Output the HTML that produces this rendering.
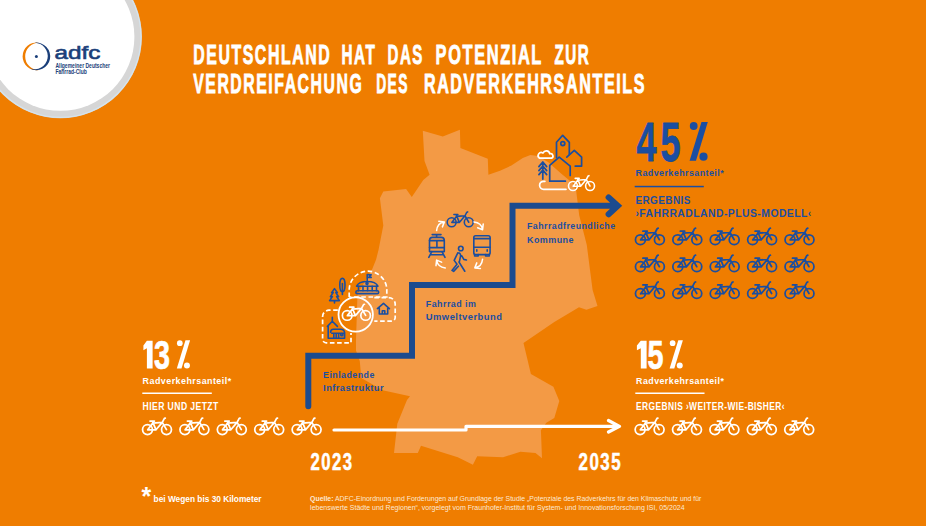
<!DOCTYPE html>
<html><head><meta charset="utf-8">
<style>
html,body{margin:0;padding:0;width:926px;height:526px;overflow:hidden;background:#EF7D00;}
svg{display:block;font-family:"Liberation Sans",sans-serif;}
</style></head><body>
<svg width="926" height="526" viewBox="0 0 926 526">
<defs>
<symbol id="bike" viewBox="0 0 36 24" overflow="visible">
 <g fill="none" stroke-width="1.75" stroke-linecap="round" stroke-linejoin="round">
  <circle cx="8.4" cy="15.7" r="4.95"/>
  <circle cx="27.4" cy="15.7" r="4.95"/>
  <path d="M8.6 15.9 L16.9 15.9 L13.4 7.4 M10.9 7.2 L15.3 7.2 M8.6 15.9 L13.7 9.2 L23.2 8.5 L16.9 15.9 M23.2 8.5 L27.4 15.7 M23.2 8.5 L25.3 4.5 L26.2 4.2"/>
 </g>
</symbol>
<symbol id="pct" viewBox="0 0 18.2 38.7" overflow="visible">
 <circle cx="4.1" cy="3.9" r="3.9"/>
 <polygon points="11.9,0 18.2,0 6.4,38.7 0,38.7"/>
 <circle cx="13.9" cy="34.6" r="4.1"/>
</symbol>
</defs>

<!-- map -->
<polygon fill="#F39A45" points="422.8,130.8 442.8,136.5 459.9,129.7 460.4,147.9 487.8,158.8 488.4,174.7 500,170.7 511.4,165.6 522.8,158 530.4,155.1 538,156.1 548,162 560.8,173.2 572.2,182.7 576.2,191 579.2,215.2 586.8,245 590,270 592.6,290 597.5,306 586.4,309.8 579,307.3 554.3,322.1 523.5,343.1 530.9,374 553.4,386.8 559.3,401 554.3,418 546.3,422.7 540.9,430.2 542,458.3 535.5,452.9 520.4,451.8 503.1,457.2 477.2,456.2 472.9,464.8 457.8,457.2 421,445.8 417.8,452.9 394,452.9 397.3,423.8 407,400 410,396.2 382.6,390.2 361.3,378 359.8,361.3 356,350.6 356,340 357.5,294 372.3,269 376.1,259.5 378.5,250 383.3,225.6 379.9,198.3 383.3,191.4 406.1,189.1 411.8,197.1 423.3,180 429.6,174.7 424.5,161"/>

<!-- logo circle -->
<circle cx="60.4" cy="36.8" r="81.5" fill="#D6D6D6"/>
<circle cx="60.4" cy="36.8" r="80.6" fill="none" stroke="#D4E4EE" stroke-width="1.2"/>
<circle cx="60.4" cy="36.8" r="74" fill="#FFFFFF"/>
<!-- logo -->
<path d="M38.80 42.81 A13.8 13.8 0 1 0 38.80 69.99 A13.59 13.59 0 1 1 38.80 42.81 Z" fill="#EF7D00"/>
<path d="M34.72 42.70 A13.8 13.8 0 1 1 29.92 68.58 A13.33 13.33 0 1 0 34.72 42.70 Z" fill="#1B3F7A"/>
<circle cx="36.4" cy="56.4" r="1.5" fill="#1B3F7A"/>
<text x="54.6" y="59.4" font-size="18.5" font-weight="400" fill="#1B3F7A" stroke="#1B3F7A" stroke-width="0.6" textLength="45.8" lengthAdjust="spacingAndGlyphs">adfc</text>
<text x="55.4" y="67.7" font-size="6.8" font-weight="700" fill="#1B3F7A" textLength="54.6" lengthAdjust="spacingAndGlyphs">Allgemeiner Deutscher</text>
<text x="55.4" y="74.2" font-size="6.8" font-weight="700" fill="#1B3F7A" textLength="31.5" lengthAdjust="spacingAndGlyphs">Fahrrad-Club</text>

<!-- title -->
<g fill="#FFFFFF" font-weight="700" font-size="28.4" letter-spacing="2.8" stroke="#FFFFFF" stroke-width="0.9">
<text x="193.2" y="64" textLength="138.1" lengthAdjust="spacingAndGlyphs">DEUTSCHLAND</text>
<text x="341.5" y="64" textLength="34.8" lengthAdjust="spacingAndGlyphs">HAT</text>
<text x="387.6" y="64" textLength="36.3" lengthAdjust="spacingAndGlyphs">DAS</text>
<text x="435.6" y="64" textLength="107.4" lengthAdjust="spacingAndGlyphs">POTENZIAL</text>
<text x="554.5" y="64" textLength="35.8" lengthAdjust="spacingAndGlyphs">ZUR</text>
<text x="193.2" y="93.3" textLength="170.1" lengthAdjust="spacingAndGlyphs">VERDREIFACHUNG</text>
<text x="376.2" y="93.3" textLength="32.6" lengthAdjust="spacingAndGlyphs">DES</text>
<text x="423.9" y="93.3" textLength="222.2" lengthAdjust="spacingAndGlyphs">RADVERKEHRSANTEILS</text>
</g>

<!-- staircase -->
<path d="M308.3 406.3 L308.3 355.7 L412 355.7 L412 285 L512.5 285 L512.5 205.8 L617 205.8 M608.6 197.4 L617.8 205.8 L608.6 214.2" fill="none" stroke="#1C4B8E" stroke-width="6" stroke-linecap="round" stroke-linejoin="miter"/>

<!-- stair texts -->
<g fill="#1A4EA2" font-weight="700" font-size="9.7" letter-spacing="0.5">
<text x="323.1" y="377.7" textLength="51.7" lengthAdjust="spacingAndGlyphs">Einladende</text>
<text x="323.1" y="390.5" textLength="60.9" lengthAdjust="spacingAndGlyphs">Infrastruktur</text>
<text x="425.8" y="306.7" textLength="50.6" lengthAdjust="spacingAndGlyphs">Fahrrad im</text>
<text x="425.8" y="319.7" textLength="76.6" lengthAdjust="spacingAndGlyphs">Umweltverbund</text>
<text x="527" y="229.1" textLength="88.5" lengthAdjust="spacingAndGlyphs">Fahrradfreundliche</text>
<text x="527" y="242.5" textLength="47" lengthAdjust="spacingAndGlyphs">Kommune</text>
</g>

<!-- 45% -->
<g fill="#1A4EA2">
<text x="636.6" y="160.9" font-size="55" font-weight="700" letter-spacing="6" stroke="#1B4D96" stroke-width="0.8" textLength="48" lengthAdjust="spacingAndGlyphs">45</text>
<use href="#pct" x="689.6" y="122.1" width="18.2" height="38.7"/>
<text x="635.6" y="176.2" font-size="9.7" font-weight="700" letter-spacing="0.5" textLength="88.5" lengthAdjust="spacingAndGlyphs">Radverkehrsanteil*</text>
<rect x="634.7" y="185.8" width="69.1" height="1.5"/>
<text x="635.4" y="203.8" font-size="10.5" font-weight="700" letter-spacing="0.5" textLength="55.5" lengthAdjust="spacingAndGlyphs">ERGEBNIS</text>
<text x="635.4" y="216.7" font-size="10.5" font-weight="700" letter-spacing="0.5" textLength="176.4" lengthAdjust="spacingAndGlyphs">›FAHRRADLAND-PLUS-MODELL‹</text>
</g>

<!-- 13% -->
<g fill="#FFFFFF">
<path d="M146.9 340.8 L152.6 340.8 L152.6 368.6 L146.9 368.6 L146.9 348.2 L143.4 350.2 L143.4 345.6 Z"/>
<text x="154" y="368.5" font-size="41" font-weight="700" stroke="#FFFFFF" stroke-width="0.7" textLength="16" lengthAdjust="spacingAndGlyphs">3</text>
<use href="#pct" x="176.8" y="340.3" width="13.3" height="28.2"/>
<text x="142.6" y="384.4" font-size="9.7" font-weight="700" letter-spacing="0.5" textLength="89" lengthAdjust="spacingAndGlyphs">Radverkehrsanteil*</text>
<rect x="142.3" y="392.5" width="69.5" height="1.5"/>
<text x="142.6" y="409.5" font-size="10.5" font-weight="700" letter-spacing="0.5" textLength="76.1" lengthAdjust="spacingAndGlyphs">HIER UND JETZT</text>
</g>

<!-- 15% -->
<g fill="#FFFFFF">
<path d="M640.8 340.8 L646.6 340.8 L646.6 368.6 L640.8 368.6 L640.8 348.2 L636.9 350.2 L636.9 345.6 Z"/>
<text x="647.5" y="368.5" font-size="41" font-weight="700" stroke="#FFFFFF" stroke-width="0.7" textLength="16" lengthAdjust="spacingAndGlyphs">5</text>
<use href="#pct" x="669.6" y="340.3" width="13.3" height="28.2"/>
<text x="636.1" y="384.4" font-size="9.7" font-weight="700" letter-spacing="0.5" textLength="88.2" lengthAdjust="spacingAndGlyphs">Radverkehrsanteil*</text>
<rect x="635.3" y="392.5" width="69.2" height="1.5"/>
<text x="636.1" y="409.5" font-size="10.5" font-weight="700" letter-spacing="0.5" textLength="148.9" lengthAdjust="spacingAndGlyphs">ERGEBNIS ›WEITER-WIE-BISHER‹</text>
</g>

<!-- timeline -->
<path d="M334 430 L466 430 L466 426.3 L619 426.3 M608.5 420.5 L619.5 426.3 L608.5 432" fill="none" stroke="#FFFFFF" stroke-width="3.2" stroke-linecap="round" stroke-linejoin="round"/>
<g fill="#FFFFFF" font-weight="700" font-size="23" letter-spacing="2" stroke="#FFFFFF" stroke-width="0.5">
<text x="310.6" y="469.6" textLength="43" lengthAdjust="spacingAndGlyphs">2023</text>
<text x="578.6" y="469.6" textLength="43.5" lengthAdjust="spacingAndGlyphs">2035</text>
</g>

<!-- footnote -->
<g fill="#FFFFFF">
<text x="141.4" y="504.5" font-size="25" font-weight="700">*</text>
<text x="153.6" y="501.6" font-size="9" font-weight="700" textLength="108" lengthAdjust="spacingAndGlyphs">bei Wegen bis 30 Kilometer</text>
<text x="310.1" y="501.2" font-size="7" fill="#FDE9D6" textLength="391.3" lengthAdjust="spacingAndGlyphs"><tspan font-weight="700">Quelle:</tspan> ADFC-Einordnung und Forderungen auf Grundlage der Studie „Potenziale des Radverkehrs für den Klimaschutz und für</text>
<text x="310.1" y="509.8" font-size="7" fill="#FDE9D6" textLength="374.5" lengthAdjust="spacingAndGlyphs">lebenswerte Städte und Regionen“, vorgelegt vom Fraunhofer-Institut für System- und Innovationsforschung ISI, 05/2024</text>
</g>


<!-- ICONS top-right cluster -->
<g fill="none" stroke="#1A4EA0" stroke-width="1.7" stroke-linecap="round" stroke-linejoin="round">
 <path d="M556.5 157.5 L556.5 142.3 L562.7 135.3 L569.3 142.3 L569.3 154.3"/>
 <circle cx="562.8" cy="143.6" r="2"/>
 <path d="M566.8 157.2 L574.3 150.3 L581.6 157.2 L581.6 166.1 L575.2 166.1"/>
 <path d="M565.4 181.2 L549.7 181.2 L549.7 165.4 L559.2 157.2 L570.2 166.1 L570.2 175.5"/>
 <path d="M542.8 162 L542.8 179.1 M538.9 166.6 L542.8 162 L546.7 166.6 M538.9 170.6 L542.8 166 L546.7 170.6 M538.9 174.6 L542.8 170 L546.7 174.6"/>
</g>
<g fill="none" stroke="#FFFFFF" stroke-width="1.7" stroke-linecap="round" stroke-linejoin="round">
 <path d="M539.6 158.2 L551.4 158.2 A2.3 2.3 0 0 0 549.8 153.8 A3.6 3.6 0 0 0 543 153 A2.3 2.3 0 0 0 539.6 158.2 Z"/>
 <path d="M544.9 181.3 L543.6 181.3 A4 4 0 0 0 543.6 189.3 L566 189.3"/>
</g>
<use href="#bike" x="565.4" y="171.9" width="32.4" height="21.6" stroke="#FFFFFF"/>

<!-- ICONS middle cluster -->
<use href="#bike" x="444.1" y="208.1" width="32.4" height="21.6" stroke="#1A4EA0"/>
<g fill="none" stroke="#1A4EA0" stroke-width="1.6" stroke-linecap="round" stroke-linejoin="round">
 <path d="M432.2 234.6 L441 234.6 M436.6 234.6 L436.6 237.3"/>
 <path d="M429.5 251.6 L429.5 240.5 Q429.5 237.4 432.6 237.4 L441.2 237.4 Q444.3 237.4 444.3 240.5 L444.3 251.6 Z"/>
 <path d="M429.5 240.6 L444.3 240.6 M436.9 240.6 L436.9 247.6 M429.5 247.6 L444.3 247.6 M431.8 251.7 L428.8 257.4 M442 251.7 L445 257.4 M430.3 254.7 L443.5 254.7"/>
 <rect x="473.8" y="235.8" width="16.3" height="18.8" rx="1.8"/>
 <path d="M473.8 238.6 L490.1 238.6 M473.8 247.2 L490.1 247.2 M474.6 254.6 L474.6 256 L478.2 256 L478.2 254.6 M485.6 254.6 L485.6 256 L489.3 256 L489.3 254.6"/>
 <path d="M476.8 249.8 L476.8 251.2 M487.2 249.8 L487.2 251.2"/>
 <circle cx="460.8" cy="248.5" r="2.3"/>
 <path d="M457.8 252.8 L454.2 260.4 L457 264.2 L452 270.4 L453.6 271.4 L458.4 266.2 M459 262 L464.8 271.2 M457.8 252.8 Q460.6 252.6 460.6 255.8 L459.4 261.6 M461.8 255.8 L463.8 259.4 L466.4 260"/>
</g>
<g fill="none" stroke="#FFFFFF" stroke-width="1.5" stroke-linecap="round" stroke-linejoin="round">
 <path d="M436.6 230.6 Q437.5 223.0 444.0 222.0 M438.8 221.3 L444.4 221.9 L442.4 226.9"/>
 <path d="M473.9 221.9 Q481.5 222.8 482.5 229.3 M483.2 224.1 L482.6 229.7 L477.6 227.7"/>
 <path d="M482.6 259.2 Q481.7 266.8 475.2 267.8 M480.4 268.5 L474.8 267.9 L476.8 262.9"/>
 <path d="M445.3 267.9 Q437.7 267.0 436.7 260.5 M436.0 265.7 L436.6 260.1 L441.6 262.1"/>
</g>

<!-- ICONS left cluster -->
<g fill="none" stroke="#FFFFFF" stroke-width="1.7" stroke-dasharray="4.6 2.6" stroke-linecap="butt">
 <path d="M349.2 297 L349.2 290 A18.8 18.8 0 0 1 386.8 290 L386.8 297 L349.2 297"/>
 <path d="M374.3 297.6 L388.5 297.6 A6.6 6.6 0 0 1 395.2 304.2 L395.2 317.6 A3.6 3.6 0 0 1 391.6 321.2 L374.3 321.2"/>
 <path d="M337.8 310.2 L329 310.2 A6.4 6.4 0 0 0 322.6 316.6 L322.6 339.2 A3.6 3.6 0 0 0 326.2 342.8 L351 342.8 L351 333"/>
</g>
<circle cx="355.7" cy="314.5" r="17.2" fill="none" stroke="#FFFFFF" stroke-width="1.8"/>
<use href="#bike" x="339" y="300.2" width="35" height="23.3" stroke="#FFFFFF"/>
<g fill="none" stroke="#1A4EA0" stroke-width="1.6" stroke-linecap="round" stroke-linejoin="round">
 <path d="M367.2 280.4 L367.2 274.6 L371.2 274.8 L369.6 276.1 L371.2 277.4 L367.2 277.4"/>
 <path d="M356.6 286.2 A11 6.2 0 0 1 377.9 286.2 Z"/>
 <circle cx="367" cy="283.4" r="1"/>
 <path d="M358.5 286.4 L358.5 290.8 M363 286.4 L363 290.8 M367.6 286.4 L367.6 290.8 M372.2 286.4 L372.2 290.8 M376.5 286.4 L376.5 290.8"/>
 <rect x="355.9" y="290.8" width="22.7" height="2.8" rx="1.2"/>
 <ellipse cx="342.4" cy="285" rx="2.6" ry="6.6"/>
 <path d="M342.4 283.5 L342.4 294.4"/>
 <path d="M334.5 288.6 L331.6 292.6 L333.2 292.6 L330.4 296.6 L332.4 296.6 L329.6 300.6 L339.4 300.6 L336.6 296.6 L338.6 296.6 L335.8 292.6 L337.4 292.6 Z M334.5 300.6 L334.5 303"/>
 <path d="M377.4 308.6 L383.5 303.4 L389.4 308.6 M379.3 307.2 L379.3 314 L387.7 314 L387.7 307.2 M382.3 314 L382.3 310.8 L384.8 310.8 L384.8 314"/>
 <path d="M332.3 317.4 L332.3 321.2 M327.4 326.4 L332.3 321.2 L337.4 326.4 M328.2 325.6 L328.2 338.2 L344.6 338.2 L344.6 332.5 A4 3.6 0 0 0 340.6 329.3 L333.5 329.3 A3 3 0 0 0 330.6 332.3 M331.8 333.2 L344.4 333.2 M333.8 333.6 L333.8 338 M336.2 333.6 L336.2 338 M338.6 333.6 L338.6 338"/>
 <circle cx="341.8" cy="334.7" r="1.1"/>
</g>

<!-- blue bikes grid -->
<g stroke="#1A4EA0" color="#1A4EA0">
<use href="#bike" x="632" y="224" width="36" height="24"/>
<use href="#bike" x="669.4" y="224" width="36" height="24"/>
<use href="#bike" x="706.8" y="224" width="36" height="24"/>
<use href="#bike" x="744.2" y="224" width="36" height="24"/>
<use href="#bike" x="781.6" y="224" width="36" height="24"/>
<use href="#bike" x="632" y="251" width="36" height="24"/>
<use href="#bike" x="669.4" y="251" width="36" height="24"/>
<use href="#bike" x="706.8" y="251" width="36" height="24"/>
<use href="#bike" x="744.2" y="251" width="36" height="24"/>
<use href="#bike" x="781.6" y="251" width="36" height="24"/>
<use href="#bike" x="632" y="277.8" width="36" height="24"/>
<use href="#bike" x="669.4" y="277.8" width="36" height="24"/>
<use href="#bike" x="706.8" y="277.8" width="36" height="24"/>
<use href="#bike" x="744.2" y="277.8" width="36" height="24"/>
<use href="#bike" x="781.6" y="277.8" width="36" height="24"/>
</g>
<!-- white bikes -->
<g stroke="#FFFFFF">
<use href="#bike" x="139.1" y="413.9" width="36" height="24"/>
<use href="#bike" x="176.5" y="413.9" width="36" height="24"/>
<use href="#bike" x="213.9" y="413.9" width="36" height="24"/>
<use href="#bike" x="251.3" y="413.9" width="36" height="24"/>
<use href="#bike" x="288.7" y="413.9" width="36" height="24"/>
<use href="#bike" x="631.7" y="413.9" width="36" height="24"/>
<use href="#bike" x="669.1" y="413.9" width="36" height="24"/>
<use href="#bike" x="706.5" y="413.9" width="36" height="24"/>
<use href="#bike" x="743.9" y="413.9" width="36" height="24"/>
<use href="#bike" x="781.3" y="413.9" width="36" height="24"/>
</g>

</svg>
</body></html>
